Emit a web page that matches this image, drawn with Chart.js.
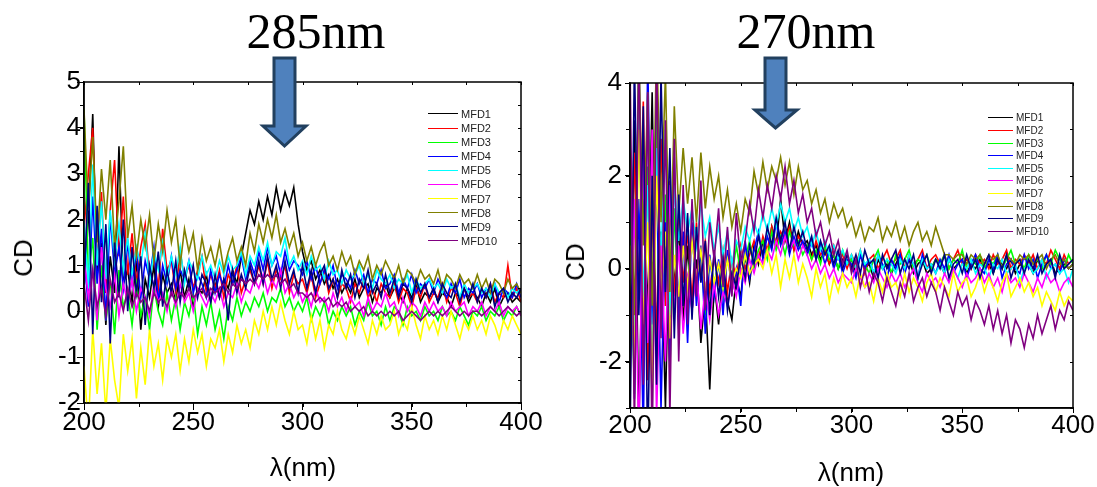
<!DOCTYPE html>
<html>
<head>
<meta charset="utf-8">
<script src="https://cdn.jsdelivr.net/npm/chart.js@4"></script>
<style>
  body { margin: 0; background: #fff; width: 1097px; height: 487px; position: relative; overflow: hidden; font-family: "Liberation Sans", Arial, sans-serif; }
  canvas { position: absolute; top: 0; }
  #left285 { left: 0; }
  #right270 { left: 548px; }
  .title { position: absolute; top: 6px; font-family: "Liberation Serif", serif; font-size: 50px; line-height: 50px; transform: translateX(-50%); white-space: nowrap; }
  .axtitle { position: absolute; font-size: 26px; line-height: 26px; white-space: nowrap; transform: translate(-50%, -50%); }
  .axtitle.rot { transform: translate(-50%, -50%) rotate(-90deg); }
  .lg { position: absolute; display: flex; align-items: center; white-space: nowrap; color: #222; }
  svg { position: absolute; left: 0; top: 0; }
</style>
</head>
<body>
<canvas id="left285" width="548" height="487"></canvas>
<canvas id="right270" width="549" height="487"></canvas>

<div class="title" style="left:316px">285nm</div>
<div class="title" style="left:806px">270nm</div>
<div class="axtitle rot" style="left:23px;top:258px">CD</div>
<div class="axtitle rot" style="left:575px;top:262px">CD</div>
<div class="axtitle" style="left:303px;top:467px">λ(nm)</div>
<div class="axtitle" style="left:851px;top:472px">λ(nm)</div>

<svg width="1097" height="487">
  <polygon points="274,58 295,58 295,126 306,126 284.5,146 263,126 274,126" fill="#4f81bd" stroke="#22405f" stroke-width="3" stroke-linejoin="miter"/>
  <polygon points="765,58 786,58 786,110 797,110 775.5,128 755,110 765,110" fill="#4f81bd" stroke="#22405f" stroke-width="3" stroke-linejoin="miter"/>
</svg>

<script>
// Series names and colours (Origin default order)
const seriesNames = ['MFD1', 'MFD2', 'MFD3', 'MFD4', 'MFD5', 'MFD6', 'MFD7', 'MFD8', 'MFD9', 'MFD10'];
const seriesColors = ['#000000', '#ff0000', '#00ff00', '#0000ff', '#00ffff', '#ff00ff', '#ffff00', '#808000', '#000080', '#800080'];

// wavelength grid, 200..400 nm every 2 nm
const wavelength = Array.from({ length: 101 }, (_, i) => 200 + 2 * i);

const xTicks = [200, 250, 300, 350, 400];
const yTicks285 = [-2, -1, 0, 1, 2, 3, 4, 5];
const yTicks270 = [-2, 0, 2, 4];

// ---- 285nm panel ----
const mfd1_285 = [0.5,2.0,4.3,0.8,1.5,-0.3,1.2,0.4,3.6,0.6, 0.9,0.2,1.1,-0.4,0.7,0.3,1.0,0.1,0.8,0.4, 0.6,0.2,0.9,0.3,0.7,0.1,0.5,0.4,0.8,0.2, 0.6,0.3,0.7,0.5,0.9,0.6,1.2,1.7,2.2,1.9, 2.4,2.0,2.5,2.1,2.7,2.2,2.6,2.3,2.7,1.9, 1.3,0.9,1.1,0.7,0.9,0.6,0.8,0.5,0.7,0.4, 0.6,0.4,0.7,0.3,0.5,0.6,0.2,0.5,0.4,0.6, 0.3,0.5,0.4,0.2,0.5,0.3,0.6,0.2,0.4,0.3, 0.5,0.2,0.4,0.3,0.1,0.4,0.3,0.5,0.2,0.4, 0.3,0.1,0.4,0.2,0.5,0.1,0.3,0.4,0.2,0.3, 0.2];
const mfd2_285 = [1.8,3.0,4.0,1.0,2.6,0.4,2.2,3.3,1.2,2.5, 0.8,1.7,0.6,1.4,1.9,0.7,1.2,0.5,1.8,0.9, 1.1,0.4,1.3,0.7,1.0,0.5,0.9,1.2,0.4,0.8, 0.5,0.9,0.3,0.8,0.6,1.0,0.4,0.7,0.9,0.6, 1.0,0.6,1.1,0.5,0.9,0.7,1.0,0.4,0.8,0.6, 0.7,0.4,0.8,0.3,0.6,0.9,0.4,0.7,0.3,0.6, 0.5,0.2,0.6,0.4,0.7,0.3,0.5,0.2,0.6,0.4, 0.3,0.6,0.2,0.5,0.4,0.1,0.5,0.3,0.6,0.2, 0.4,0.3,0.6,0.2,0.5,0.4,0.1,0.5,0.3,0.4, 0.2,0.5,0.3,0.6,0.2,0.4,0.3,1.0,0.3,0.5, 0.2];
const mfd3_285 = [4.4,0.8,1.6,-0.4,1.0,-0.2,0.7,-0.5,0.9,0.1, 0.4,-0.3,0.6,-0.1,0.3,-0.4,0.5,0.0,-0.3,0.4, -0.2,0.3,-0.4,0.2,-0.1,0.4,-0.5,0.1,-0.3,0.2, -0.4,0.0,-0.6,0.1,-0.2,0.3,-0.1,0.2,0.0,0.3, 0.1,0.4,0.0,0.3,0.2,0.5,0.1,0.3,0.0,0.2, 0.0,0.3,-0.2,0.1,-0.1,0.2,-0.3,0.0,-0.2,0.1, -0.1,0.1,-0.3,0.0,-0.2,0.2,-0.1,0.0,-0.3,0.1, -0.2,0.1,0.0,-0.3,0.1,-0.1,0.0,-0.2,0.1,-0.1, 0.0,-0.2,0.1,-0.1,0.0,-0.2,0.1,-0.1,-0.3,0.0, -0.1,0.1,-0.2,0.0,-0.1,0.1,-0.2,0.0,-0.1,0.1, -0.1];
const mfd4_285 = [1.2,0.1,2.5,0.6,1.8,-0.2,2.1,0.8,1.4,0.5, 1.5,0.6,1.3,0.3,1.1,0.7,1.4,0.2,1.0,0.6, 1.2,0.5,0.9,0.7,1.1,0.4,0.8,0.6,0.3,0.9, 0.4,0.8,0.5,1.0,0.6,0.9,1.2,0.7,1.1,0.8, 1.3,0.9,1.4,1.0,1.2,0.8,1.3,0.9,1.1,1.0, 0.8,1.1,0.7,1.0,0.6,0.9,0.7,1.0,0.5,0.8, 0.7,0.5,0.9,0.6,0.8,0.4,0.7,0.6,0.9,0.5, 0.6,0.8,0.4,0.7,0.5,0.8,0.4,0.6,0.5,0.7, 0.4,0.7,0.5,0.3,0.6,0.4,0.7,0.3,0.5,0.4, 0.6,0.3,0.5,0.4,0.6,0.2,0.5,0.4,0.3,0.6, 0.3];
const mfd5_285 = [2.0,0.5,3.2,1.0,2.4,0.7,2.2,1.1,1.9,0.9, 1.6,0.8,1.4,1.0,1.7,0.6,1.3,0.9,1.5,0.7, 1.2,0.8,1.4,0.6,1.1,0.9,0.7,1.2,0.8,1.0, 0.7,1.1,0.8,1.2,0.9,1.0,1.3,0.8,1.2,1.0, 1.4,1.1,1.5,1.0,1.3,1.2,1.6,1.0,1.2,0.9, 1.1,0.8,1.2,0.9,1.0,0.7,1.1,0.8,0.9,0.6, 0.9,0.7,0.8,1.0,0.6,0.8,0.5,0.9,0.7,0.6, 0.8,0.5,0.7,0.6,0.8,0.4,0.7,0.5,0.6,0.7, 0.5,0.6,0.4,0.7,0.5,0.6,0.3,0.6,0.4,0.5, 0.6,0.4,0.5,0.3,0.6,0.4,0.5,0.3,0.5,0.4, 0.5];
const mfd6_285 = [1.2,0.3,0.9,-0.2,1.4,0.5,0.1,0.8,-0.1,0.6, 0.2,0.7,0.0,0.5,0.3,-0.1,0.6,0.2,0.4,0.0, 0.5,0.1,0.6,0.2,0.4,0.0,0.5,0.3,0.1,0.4, 0.2,0.5,0.1,0.4,0.3,0.6,0.2,0.5,0.4,0.7, 0.5,0.8,0.4,0.7,0.5,0.9,0.4,0.6,0.3,0.5, 0.2,0.4,0.1,0.5,0.2,0.3,0.0,0.4,0.1,0.3, 0.0,0.3,0.1,0.2,-0.1,0.3,0.0,0.2,0.1,0.4, 0.1,0.2,-0.1,0.3,0.0,0.2,0.1,-0.1,0.2,0.0, 0.2,0.0,0.1,-0.1,0.2,0.0,0.1,0.2,-0.1,0.1, 0.0,0.2,-0.1,0.1,0.0,0.2,-0.1,0.1,0.0,0.1, -0.1];
const mfd7_285 = [-1.2,-2.5,-0.4,-1.8,-0.7,-2.2,-0.6,-1.5,-2.1,-0.5, -1.3,-0.6,-1.9,-0.8,-1.6,-0.4,-1.2,-0.7,-1.5,-0.6, -1.0,-0.5,-1.3,-0.6,-1.1,-0.4,-0.9,-0.5,-1.2,-0.6, -0.8,-0.4,-1.1,-0.5,-0.9,-0.3,-0.7,-0.4,-0.8,-0.2, -0.5,0.0,-0.4,0.1,-0.3,0.2,-0.2,-0.5,0.0,-0.4, -0.3,-0.7,-0.1,-0.6,-0.2,-0.8,-0.3,-0.5,0.0,-0.4, -0.6,-0.2,-0.5,-0.1,-0.4,-0.7,-0.2,-0.5,-0.1,-0.4, -0.3,0.0,-0.5,-0.2,-0.4,0.1,-0.3,-0.6,-0.1,-0.4, -0.2,-0.5,-0.1,-0.4,0.0,-0.3,-0.6,-0.2,-0.4,-0.1, -0.4,-0.2,-0.5,-0.1,-0.3,-0.6,-0.2,-0.4,-0.1,-0.3, -0.5];
const mfd8_285 = [4.4,2.2,3.8,1.5,3.1,2.0,3.3,1.4,2.4,3.6, 1.6,2.3,1.2,2.0,1.4,2.1,1.1,1.9,1.3,2.2, 1.5,2.0,1.0,1.8,1.3,1.7,0.9,1.6,1.1,1.4, 1.0,1.5,0.9,1.3,1.6,1.1,1.4,1.0,1.7,1.3, 1.9,1.5,2.0,1.6,2.1,1.5,1.8,1.4,1.7,1.2, 1.5,1.1,1.4,1.0,1.3,1.5,1.0,1.2,0.9,1.3, 1.0,1.2,0.8,1.1,0.9,1.2,0.7,1.0,0.8,1.1, 0.9,0.7,1.0,0.6,0.9,0.8,0.6,0.9,0.7,0.8, 0.6,0.9,0.5,0.8,0.7,0.5,0.8,0.6,0.7,0.5, 0.8,0.5,0.7,0.4,0.7,0.6,0.4,0.7,0.5,0.6, 0.4];
const mfd9_285 = [0.6,2.8,-0.5,2.3,0.2,1.9,-0.7,1.5,0.3,2.0, 0.0,1.4,0.4,1.2,-0.3,1.0,0.5,1.3,0.1,0.9, 0.4,1.1,0.2,0.9,0.5,1.0,0.3,0.8,0.6,0.2, 0.8,0.3,0.7,-0.2,0.9,0.4,0.8,0.5,1.0,0.6, 1.1,0.6,1.2,0.7,1.0,0.5,1.1,0.6,0.9,0.4, 1.0,0.5,0.9,0.4,0.8,1.0,0.5,0.7,0.3,0.9, 0.5,0.8,0.3,0.7,0.5,0.9,0.4,0.6,0.3,0.8, 0.4,0.7,0.3,0.6,0.5,0.2,0.7,0.4,0.6,0.3, 0.5,0.2,0.6,0.4,0.3,0.6,0.2,0.5,0.3,0.6, 0.2,0.5,0.3,0.6,0.1,0.4,0.5,0.2,0.4,0.3, 0.5];
const mfd10_285 = [0.6,-0.2,0.9,0.1,0.5,-0.1,0.7,0.2,0.4,0.0, 0.5,0.1,0.4,0.2,0.3,0.0,0.4,0.2,0.3,0.1, 0.4,0.2,0.4,0.3,0.5,0.3,0.4,0.5,0.3,0.5, 0.4,0.5,0.6,0.4,0.6,0.5,0.7,0.6,0.7,0.6, 0.8,0.7,0.8,0.7,0.8,0.6,0.7,0.5,0.6,0.4, 0.4,0.3,0.4,0.2,0.3,0.2,0.3,0.1,0.2,0.1, 0.2,0.0,0.1,0.0,0.1,-0.1,0.0,-0.1,0.0,-0.1, 0.0,-0.1,0.0,-0.2,-0.1,0.0,-0.1,-0.2,-0.1,0.0, -0.1,0.0,-0.1,0.0,0.1,0.0,-0.1,0.0,-0.1,0.0, 0.0,-0.1,0.0,0.1,0.0,-0.1,0.0,0.1,0.0,-0.1, 0.0];

// ---- 270nm panel ----
const mfd1_270 = [-2.0,3.2,-3.5,1.8,-1.0,3.8,-2.2,0.8,-3.0,1.5, -0.4,0.9,-1.2,0.5,-0.9,0.2,-1.6,-0.5,-2.6,-0.3, -1.2,0.0,-0.7,-1.1,-0.2,-0.6,0.3,-0.3,0.5,0.1, 0.6,0.3,0.9,0.5,1.5,0.6,1.0,0.4,0.8,0.5, 0.6,0.3,0.5,0.2,0.4,0.1,0.3,0.0,0.2,0.1, 0.2,-0.1,0.3,0.0,0.1,-0.2,0.2,0.0,0.1,-0.1, 0.1,0.3,0.0,0.2,-0.1,0.1,0.2,-0.1,0.0,0.2, 0.1,-0.1,0.2,0.0,0.1,0.2,-0.1,0.1,0.0,0.2, 0.0,0.1,-0.1,0.2,0.1,0.0,0.2,-0.1,0.1,0.0, 0.1,-0.1,0.2,0.0,0.1,0.2,-0.1,0.0,0.1,0.0, 0.1];
const mfd2_270 = [-1.9,2.5,-0.5,3.6,-2.4,1.2,-1.5,2.8,-0.8,1.9, -0.6,1.2,-0.3,0.8,-0.7,1.0,-0.2,0.6,-0.5,0.3, -0.3,0.4,-0.5,0.2,-0.2,0.5,0.0,0.3,0.6,0.2, 0.7,0.4,0.9,0.5,0.8,0.6,0.9,0.4,0.7,0.5, 0.5,0.2,0.6,0.3,0.4,0.1,0.5,0.2,0.3,0.0, 0.3,0.1,0.4,-0.1,0.2,0.3,0.0,0.2,0.4,0.1, 0.2,0.4,0.0,0.3,0.1,0.2,0.4,0.0,0.2,0.3, 0.1,0.3,0.0,0.2,0.4,0.1,0.2,0.0,0.3,0.1, 0.2,0.0,0.3,0.1,0.2,0.4,0.0,0.2,0.1,0.3, 0.1,0.3,0.0,0.2,0.1,0.4,0.2,0.0,0.3,0.1, 0.2];
const mfd3_270 = [1.0,-2.7,4.8,-1.8,2.2,-3.0,3.5,-0.9,1.6,-2.2, 1.3,-0.9,0.7,-0.4,0.9,-0.6,0.4,-1.0,0.2,-0.3, 0.1,-0.6,0.3,-0.2,0.5,-0.1,0.2,0.6,0.0,0.4, 0.6,0.2,0.8,0.4,0.7,0.3,0.8,0.5,0.6,0.3, 0.5,0.2,0.4,0.1,0.5,0.2,0.3,0.0,0.4,0.1, 0.2,0.0,0.3,0.1,-0.1,0.2,0.4,0.0,0.2,-0.1, 0.3,0.1,0.2,0.4,0.0,0.2,0.1,0.3,0.0,0.2, 0.1,0.3,0.0,0.2,0.1,0.4,0.0,0.2,0.1,0.3, 0.0,0.2,0.1,0.3,0.0,0.2,0.4,0.1,0.2,0.0, 0.3,0.1,0.2,0.0,0.3,0.1,0.4,0.2,0.0,0.3, 0.1];
const mfd4_270 = [3.0,-2.8,1.5,-3.6,4.5,-1.2,2.0,-3.0,1.0,-2.0, 2.4,-1.3,0.8,-1.6,1.0,-0.8,0.5,-1.4,0.3,-0.6, 0.2,-1.0,0.4,-0.5,0.0,-0.8,0.6,-0.2,0.4,0.8, 0.2,0.7,0.4,1.0,0.5,0.8,0.3,0.7,0.4,0.6, 0.3,0.6,0.2,0.5,0.1,0.4,0.0,0.3,-0.1,0.2, 0.1,-0.2,0.3,0.0,0.2,-0.1,0.3,0.1,-0.2,0.2, 0.0,0.3,-0.1,0.2,0.1,-0.2,0.3,0.0,0.1,-0.1, 0.2,0.0,0.3,-0.1,0.1,0.2,-0.2,0.1,0.3,0.0, -0.1,0.2,0.0,0.3,-0.2,0.1,0.2,0.0,-0.1,0.3, 0.0,0.2,-0.2,0.1,0.3,0.0,0.1,-0.1,0.2,0.0, 0.1];
const mfd5_270 = [2.8,-1.5,3.4,-0.6,1.8,-2.5,2.6,0.2,3.0,-1.0, 1.8,0.6,1.5,0.8,1.3,0.5,1.4,0.7,1.1,0.4, 0.9,0.3,0.8,0.1,0.6,0.4,0.9,0.6,1.0,0.7, 1.2,0.8,1.3,0.9,1.4,1.0,1.3,0.8,1.1,0.7, 0.9,0.5,0.8,0.4,0.6,0.3,0.5,0.2,0.4,0.1, 0.3,0.0,0.4,0.1,0.2,-0.1,0.3,0.0,0.2,0.1, -0.1,0.2,0.0,0.3,0.1,-0.2,0.2,0.0,0.1,-0.1, 0.1,-0.1,0.2,0.0,-0.2,0.1,0.0,0.2,-0.1,0.1, 0.0,-0.2,0.1,0.0,0.2,-0.1,0.0,0.1,-0.3,0.0, 0.1,-0.1,0.0,0.2,-0.2,0.0,0.1,-0.1,0.0,-0.3, 0.0];
const mfd6_270 = [-2.5,1.5,-3.8,2.4,-1.6,3.0,-3.2,0.5,-2.0,1.8, -1.0,0.5,-1.4,-0.2,-0.9,0.0,-1.3,-0.4,-1.1,-0.3, -1.0,-0.5,-0.8,-0.2,-0.6,0.0,-0.3,0.2,-0.1,0.3, 0.1,0.4,0.2,0.6,0.3,0.7,0.4,0.6,0.2,0.5, 0.3,0.0,0.2,-0.1,0.1,-0.2,0.0,-0.3,-0.1,-0.2, -0.3,0.0,-0.2,-0.4,-0.1,-0.3,0.0,-0.2,-0.4,-0.1, -0.3,-0.1,-0.4,-0.2,0.0,-0.3,-0.5,-0.1,-0.3,-0.2, -0.4,-0.1,-0.3,0.0,-0.2,-0.4,-0.1,-0.3,-0.2,0.0, -0.3,-0.1,-0.4,-0.2,-0.5,-0.1,-0.3,-0.2,-0.4,-0.1, -0.3,-0.5,-0.2,-0.4,-0.1,-0.3,-0.2,-0.5,-0.3,-0.2, -0.4];
const mfd7_270 = [0.5,-2.0,3.0,-1.2,1.0,-2.6,2.0,-0.5,0.8,-1.5, 0.3,-0.6,0.5,-0.4,0.6,-0.2,0.4,-0.5,0.2,-0.3, 0.1,-0.4,0.2,-0.3,0.0,-0.2,0.3,-0.1,0.1,0.2, 0.0,0.4,-0.1,0.3,-0.4,0.2,-0.2,0.3,-0.3,0.1, -0.2,-0.6,0.0,-0.4,-0.1,-0.7,-0.2,-0.5,-0.1,-0.4, -0.2,-0.6,-0.1,-0.4,-0.3,-0.7,-0.2,-0.5,-0.1,-0.4, -0.3,-0.6,-0.1,-0.5,-0.2,-0.4,-0.7,-0.3,-0.1,-0.5, -0.2,-0.4,-0.6,-0.1,-0.5,-0.3,-0.2,-0.6,-0.4,-0.1, -0.5,-0.2,-0.4,-0.7,-0.3,-0.1,-0.6,-0.4,-0.2,-0.5, -0.3,-0.6,-0.4,-0.8,-0.5,-0.7,-0.9,-0.5,-0.8,-0.6, -0.7];
const mfd8_270 = [2.5,-1.0,4.5,0.5,3.8,-0.8,5.0,1.0,4.2,-0.5, 3.5,1.2,2.6,1.4,2.4,1.0,2.5,1.3,2.2,1.5, 2.0,1.1,1.7,0.9,1.4,0.8,1.5,1.2,2.1,1.6, 2.3,1.7,2.2,1.9,2.4,1.8,2.3,1.6,2.2,1.7, 1.9,1.4,1.7,1.2,1.5,1.0,1.4,1.1,1.3,0.9, 1.1,0.7,1.0,0.6,0.9,0.8,1.1,0.6,0.9,0.7, 1.0,0.6,0.9,0.5,0.8,1.0,0.6,0.8,0.5,0.9, 0.6,0.3,0.3,0.2,0.3,0.3,0.1,0.3,0.2,0.3, 0.1,0.3,0.2,0.3,0.0,0.3,0.2,0.1,0.3,0.2, 0.3,0.1,0.2,0.3,0.0,0.2,0.3,0.1,0.2,0.0, 0.1];
const mfd9_270 = [-3.8,4.5,-1.0,3.5,-4.0,2.0,-2.5,4.2,-0.5,2.6, -1.5,1.6,-0.8,1.2,-1.1,0.9,-0.3,0.6,-1.0,0.4, -0.6,0.2,-0.9,-0.1,-0.4,0.3,-0.2,0.5,0.1,0.7, 0.3,0.9,0.5,1.1,0.6,1.0,0.4,0.9,0.5,0.8, 0.4,0.7,0.2,0.6,0.3,0.5,0.1,0.4,0.0,0.3, 0.0,0.3,-0.1,0.4,0.1,0.2,-0.2,0.3,0.0,0.2, 0.4,-0.1,0.2,0.0,0.3,-0.2,0.1,0.3,-0.1,0.2, 0.0,0.3,-0.2,0.1,0.2,-0.1,0.3,0.0,0.2,-0.2, 0.1,0.3,-0.1,0.2,0.0,0.3,-0.2,0.1,0.2,-0.1, 0.2,0.0,0.3,-0.1,0.1,0.2,-0.2,0.3,0.0,0.1, 0.2];
const mfd10_270 = [4.5,-3.5,5.0,-2.5,3.8,-4.0,4.6,-1.5,3.2,-3.2, 2.8,-2.0,1.8,-1.2,1.5,-0.6,1.9,-0.9,1.0,0.2, 1.3,-0.4,0.9,-0.6,1.2,0.1,0.6,1.4,0.8,1.7, 1.1,1.8,1.3,2.0,1.5,2.2,1.4,1.9,1.2,1.6, 1.0,1.3,0.7,1.0,0.5,0.8,0.3,0.6,0.1,0.4, -0.1,0.2,-0.4,0.0,-0.5,-0.1,-0.3,-0.7,-0.2,-0.5, -0.8,-0.3,-0.6,-0.1,-0.7,-0.4,-0.2,-0.6,-0.3,-0.5, -0.9,-0.4,-0.7,-1.0,-0.5,-0.8,-0.6,-1.1,-0.7,-0.9, -1.2,-0.8,-1.3,-0.9,-1.4,-1.0,-1.6,-1.1,-1.3,-1.7, -1.2,-1.5,-1.0,-1.4,-1.1,-0.8,-1.3,-0.9,-1.1,-0.7, -0.9];

const series285 = [mfd1_285, mfd2_285, mfd3_285, mfd4_285, mfd5_285, mfd6_285, mfd7_285, mfd8_285, mfd9_285, mfd10_285];
const series270 = [mfd1_270, mfd2_270, mfd3_270, mfd4_270, mfd5_270, mfd6_270, mfd7_270, mfd8_270, mfd9_270, mfd10_270];

const FONT = '"Liberation Sans", Arial, sans-serif';

// frame on all four sides + minor ticks, like the Origin plot
const framePlugin = {
  id: 'frame',
  afterDraw(chart, args, opts) {
    const { ctx, chartArea: a, scales: { x, y } } = chart;
    ctx.save();
    ctx.strokeStyle = '#000';
    ctx.lineWidth = 1.5;
    ctx.strokeRect(a.left, a.top, a.right - a.left, a.bottom - a.top);
    ctx.lineWidth = 1;
    ctx.beginPath();
    for (let v = x.min; v <= x.max + 1e-9; v += opts.xMinor) {
      const px = Math.round(x.getPixelForValue(v)) + 0.5;
      ctx.moveTo(px, a.bottom); ctx.lineTo(px, a.bottom + 4);
      ctx.moveTo(px, a.top); ctx.lineTo(px, a.top + 3);
    }
    for (let v = y.min; v <= y.max + 1e-9; v += opts.yMinor) {
      const py = Math.round(y.getPixelForValue(v)) + 0.5;
      ctx.moveTo(a.left, py); ctx.lineTo(a.left - 4, py);
      ctx.moveTo(a.right, py); ctx.lineTo(a.right - 3, py);
    }
    ctx.stroke();
    ctx.restore();
  }
};

function makeChart(id, series, cfg) {
  const datasets = series.map((vals, i) => ({
    label: seriesNames[i],
    data: wavelength.map((w, k) => ({ x: w, y: vals[k] })),
    borderColor: seriesColors[i],
    borderWidth: 1.6,
    pointRadius: 0,
    tension: 0,
    order: seriesNames.length - i
  }));
  return new Chart(document.getElementById(id), {
    type: 'line',
    data: { datasets },
    plugins: [framePlugin],
    options: {
      responsive: false,
      animation: false,
      devicePixelRatio: 1,
      layout: { padding: cfg.padding },
      plugins: {
        legend: { display: false },
        tooltip: { enabled: false },
        frame: { xMinor: 25, yMinor: cfg.yMinor }
      },
      scales: {
        x: {
          type: 'linear', min: 200, max: 400,
          afterBuildTicks: s => { s.ticks = xTicks.map(v => ({ value: v })); },
          afterFit: s => { s.height = cfg.xHeight; },
          ticks: { color: '#000', font: { family: FONT, size: 26 }, padding: -3, maxRotation: 0, autoSkip: false },
          grid: { drawOnChartArea: false, tickLength: cfg.tick, color: '#000' },
          border: { color: '#000', width: 1.5 }
        },
        y: {
          type: 'linear', min: cfg.yMin, max: cfg.yMax,
          afterBuildTicks: s => { s.ticks = cfg.yTicks.map(v => ({ value: v })); },
          afterFit: s => { s.width = cfg.yWidth; },
          ticks: { color: '#000', font: { family: FONT, size: 26 }, padding: cfg.yPad, autoSkip: false },
          grid: { drawOnChartArea: false, tickLength: cfg.tick, color: '#000' },
          border: { color: '#000', width: 1.5 }
        }
      }
    }
  });
}

makeChart('left285', series285, {
  padding: { left: 0, top: 82, right: 27, bottom: 0 },
  xHeight: 84, yWidth: 84, yMin: -2, yMax: 5, yTicks: yTicks285, yMinor: 0.5, tick: 7, yPad: -4
});
makeChart('right270', series270, {
  padding: { left: 0, top: 83, right: 24, bottom: 0 },
  xHeight: 79, yWidth: 82, yMin: -3, yMax: 4, yTicks: yTicks270, yMinor: 1, tick: 5, yPad: 3
});

// legends, Origin style: short line + label
function addLegend(x, y, step, lineW, size) {
  seriesNames.forEach((name, i) => {
    const row = document.createElement('div');
    row.className = 'lg';
    row.style.left = x + 'px';
    row.style.top = (y + i * step - step / 2) + 'px';
    row.style.height = step + 'px';
    row.style.fontSize = size + 'px';
    row.innerHTML = `<span style="display:inline-block;width:${lineW}px;height:1px;background:${seriesColors[i]};margin-right:3px"></span>${name}`;
    document.body.appendChild(row);
  });
}
addLegend(428, 114, 14.1, 30, 11);
addLegend(988, 118, 12.6, 25, 10);
</script>
</body>
</html>
